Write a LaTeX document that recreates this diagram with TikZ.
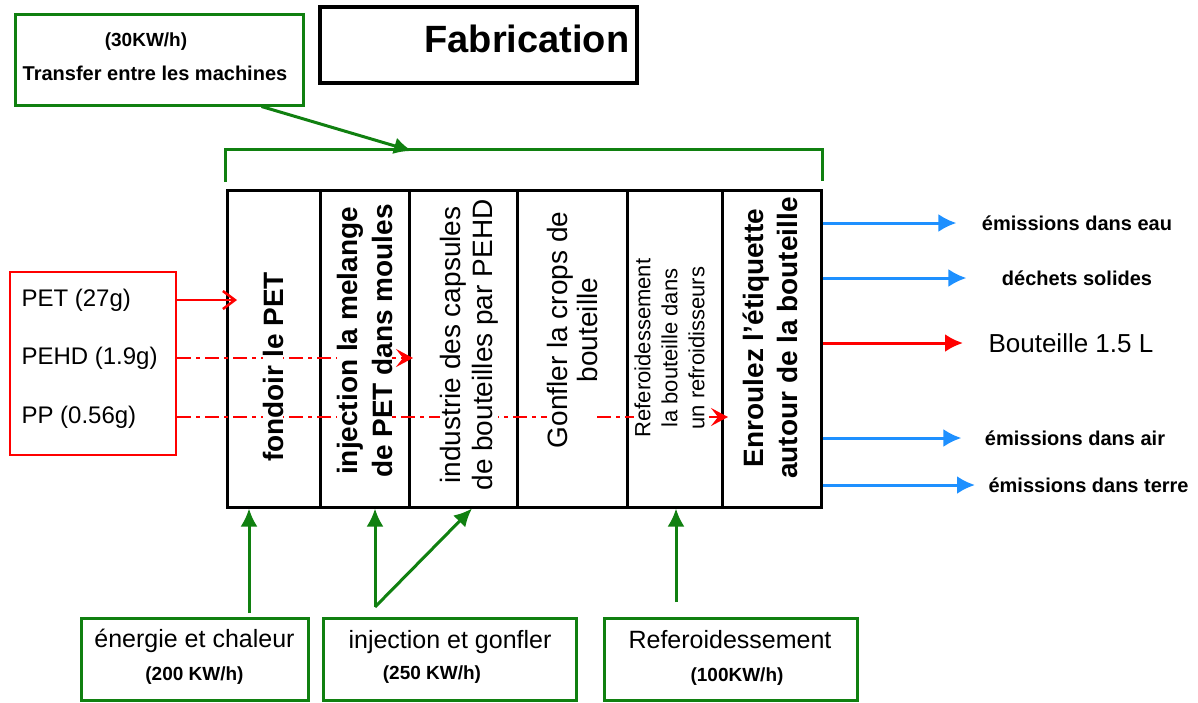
\documentclass[tikz,border=0pt]{standalone}
\usepackage{fontspec}
\setmainfont{Liberation Sans}
\usetikzlibrary{positioning}
\usetikzlibrary{arrows.meta}
\usetikzlibrary{calc}

\definecolor{procgreen}{RGB}{16,128,16}
\definecolor{outblue}{RGB}{30,144,255}

\begin{document}
\begin{tikzpicture}[x=1pt,y=-1pt,
    stage/.style={draw=black, line width=3pt, minimum height=317pt, inner sep=0pt},
    stagetext/.style={rotate=90, fill=white, inner sep=0pt, align=center},
    greenbox/.style={draw=procgreen, line width=3pt, minimum height=82pt, inner sep=0pt},
    greenarrow/.style={draw=procgreen, line width=3pt, -{Latex[length=18pt,width=17pt]}},
    bluearrow/.style={draw=outblue, line width=3pt, -{Latex[length=18pt,width=18pt]}},
    redline/.style={draw=red, line width=2.5pt, dash pattern=on 14pt off 5pt on 4pt off 5pt},
    smalltext/.style={font=\fontsize{19}{22}\selectfont\bfseries},
    outtext/.style={font=\fontsize{20}{24}\selectfont\bfseries},
    intext/.style={font=\fontsize{24}{28}\selectfont},
    boxtitle/.style={font=\fontsize{25}{30}\selectfont}]
    \useasboundingbox (0,0) rectangle (1198,702);

    % Define the coordinates of the points
    \coordinate (brk) at (412,151);
    \coordinate (e1) at (249,613);
    \coordinate (i1) at (375,607);
    \coordinate (r1) at (676,602);

    % Title and transfer box
    \node[draw=black, line width=3.5pt, minimum width=317pt, minimum height=76pt] (title) at (478.5,45) {};
    \node[font=\fontsize{38}{44}\selectfont\bfseries] (fab) at (527,39) {Fabrication};
    \node[greenbox, minimum width=288pt, minimum height=91pt] (transfer) at (159,59.5) {};
    \node[smalltext] (trval) at (146,42) {(30KW/h)};
    \node[font=\fontsize{20}{24}\selectfont\bfseries] (trtxt) at (155,73) {Transfer entre les machines};

    % Draw the stages
    \foreach \n/\cx/\w in {1/273.5/93, 2/364.5/89, 3/463/108, 4/572/110, 5/674.5/95, 6/771.5/99}
        \node[stage, minimum width=\w pt] (s\n) at (\cx,348.5) {};

    % Raw materials
    \node[draw=red, line width=2.5pt, minimum width=166pt, minimum height=183pt] (inbox) at (93,363.5) {};
    \node[intext, anchor=west] (pet) at (18,300) {PET (27g)};
    \node[intext, anchor=west] (pehd) at (18,358) {PEHD (1.9g)};
    \node[intext, anchor=west] (pp) at (18,417) {PP (0.56g)};

    % Draw the lines
    \draw[red, line width=2.5pt, -{Straight Barb[length=12pt,width=18pt]}] (inbox.east |- pet) -- ($(s1.west |- pet)+(11.5,0)$);
    \draw[redline, -{Stealth[length=17pt,width=18pt,inset=7pt]}] (inbox.east |- pehd) -- ($(s3.west |- pehd)+(5.5,0)$);
    \draw[redline, -{Stealth[length=17pt,width=18pt,inset=7pt]}] (inbox.east |- pp) -- ($(s6.west |- pp)+(7.5,0)$);

    % Stage texts
    \node[stagetext, font=\fontsize{28}{33}\selectfont\bfseries] (t1) at (273,367) {fondoir le PET};
    \node[stagetext, font=\fontsize{28}{35}\selectfont\bfseries] (t2) at (364.5,341) {injection la melange\\de PET dans moules};
    \node[stagetext, font=\fontsize{28}{32}\selectfont] (t3) at (469,345) {industrie des capsules\\de bouteilles par PEHD};
    \node[stagetext, font=\fontsize{28}{30}\selectfont] (t4) at (572,330) {Gonfler la crops de\\bouteille};
    \node[stagetext, font=\fontsize{22}{27}\selectfont] (t5) at (669.5,348) {Referoidessement\\la bouteille dans\\un refroidisseurs};
    \node[stagetext, font=\fontsize{28}{34}\selectfont\bfseries] (t6) at (770,338) {Enroulez l'étiquette\\autour de la bouteille};

    % Bracket over the stages
    \draw[procgreen, line width=3pt] ([yshift=7pt]s1.north west) -- ++(0,-32) -| ([yshift=8pt]s6.north east);
    \draw[greenarrow] ([xshift=-43pt]transfer.south east) -- (brk);

    % Outputs
    \node[outtext] (eau) at (1077,223) {émissions dans eau};
    \node[outtext] (dechets) at (1077,278) {déchets solides};
    \node[font=\fontsize{26}{30}\selectfont, anchor=west] (bout) at (985,343) {Bouteille 1.5 L};
    \node[outtext] (air) at (1075,438) {émissions dans air};
    \node[outtext, anchor=west] (terre) at (985,485) {émissions dans terre};
    \foreach \lbl/\gap in {eau/22, dechets/32, air/20, terre/10}
        \draw[bluearrow] (s6.east |- \lbl) -- ($(\lbl.west)-(\gap,0)$);
    \draw[red, line width=3pt, -{Latex[length=18pt,width=18pt]}] (s6.east |- bout) -- ($(bout.west)-(22,0)$);

    % Energy boxes
    \node[greenbox, minimum width=227pt] (eng) at (194.5,659) {};
    \node[boxtitle] (engt) at (194.5,641) {énergie et chaleur};
    \node[smalltext] (engv) at (194.5,676) {(200 KW/h)};
    \node[greenbox, minimum width=253pt] (inj) at (449.5,659) {};
    \node[boxtitle] (injt) at (450,642) {injection et gonfler};
    \node[smalltext] (injv) at (432,675) {(250 KW/h)};
    \node[greenbox, minimum width=253pt] (ref) at (730.5,659) {};
    \node[boxtitle] (reft) at (730,640) {Referoidessement};
    \node[smalltext] (refv) at (737,677) {(100KW/h)};

    \draw[greenarrow] (e1) -- (e1 |- s1.south);
    \draw[greenarrow] (i1) -- (i1 |- s2.south);
    \draw[greenarrow] (i1) -- ($(s3.south)+(9,0)$);
    \draw[greenarrow] (r1) -- (r1 |- s5.south);
\end{tikzpicture}
\end{document}
